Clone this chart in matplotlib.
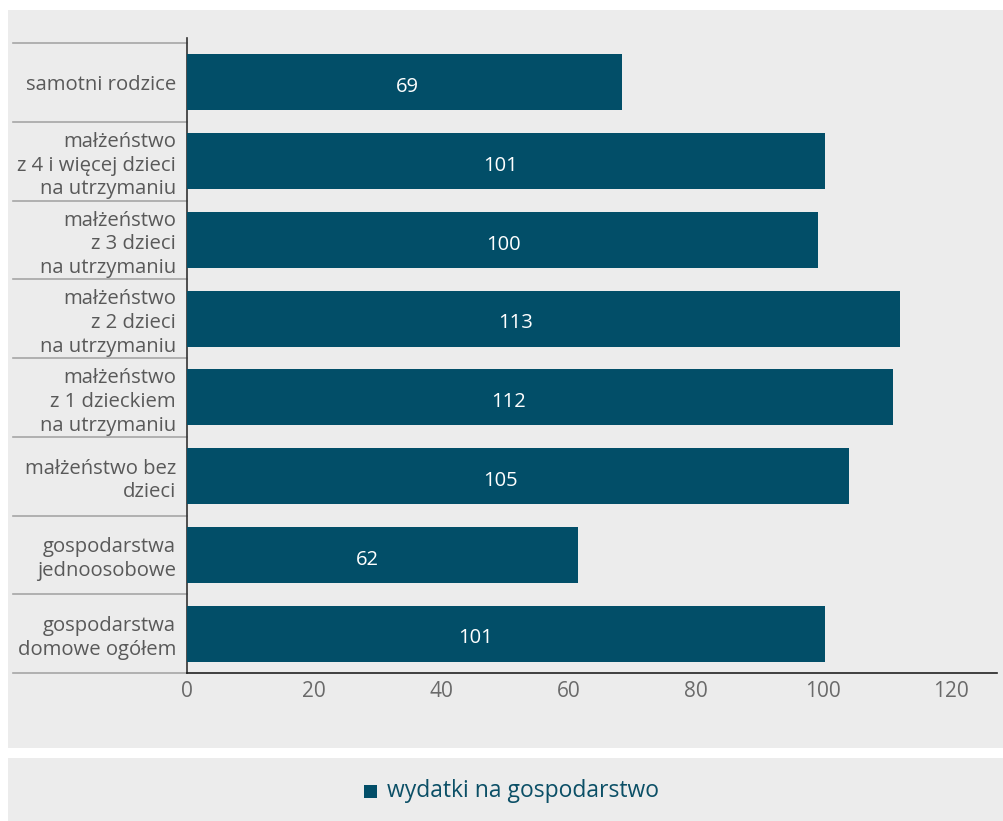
import matplotlib
matplotlib.use('Agg')
import matplotlib.pyplot as plt
import matplotlib.patches as patches

plt.rcParams['font.family'] = ['Open Sans', 'DejaVu Sans']

categories = ['gospodarstwa\ndomowe ogółem',
              'gospodarstwa\njednoosobowe',
              'małżeństwo bez\ndzieci',
              'małżeństwo\nz 1 dzieckiem\nna utrzymaniu',
              'małżeństwo\nz 2 dzieci\nna utrzymaniu',
              'małżeństwo\nz 3 dzieci\nna utrzymaniu',
              'małżeństwo\nz 4 i więcej dzieci\nna utrzymaniu',
              'samotni rodzice']
values = [100.2, 61.5, 104.1, 111.0, 112.0, 99.1, 100.2, 68.4]
value_labels = ['101', '62', '105', '112', '113', '100', '101', '69']
xticks = [0, 20, 40, 60, 80, 100, 120]
series_name = 'wydatki na gospodarstwo'

# where the value labels sit inside the bars (x, data units)
label_x = [45.3, 28.4, 49.3, 50.6, 51.7, 49.7, 49.2, 34.7]

bar_color = '#024e68'
panel_color = '#ececec'
text_gray = '#595959'

fig = plt.figure(figsize=(10.04, 8.21), dpi=100)
fig.patch.set_facecolor('white')

# gray panels (behind the axes)
fig.patches.append(patches.Rectangle((8/1004, 1-748/821), 996/1004, 738/821,
                                     transform=fig.transFigure, facecolor=panel_color,
                                     edgecolor='none', zorder=-5))
fig.patches.append(patches.Rectangle((8/1004, 0), 996/1004, 63/821,
                                     transform=fig.transFigure, facecolor=panel_color,
                                     edgecolor='none', zorder=-5))

ax = fig.add_axes([187/1004, 1-673/821, 810/1004, 635/821])
ax.set_facecolor('none')

pos = list(range(len(categories)))
ax.barh(pos, values, height=0.71, color=bar_color, zorder=3)
for p, lx, lab in zip(pos, label_x, value_labels):
    ax.text(lx, p - 0.06, lab, color='white', ha='center', va='center', fontsize=14.5, zorder=4)

ax.set_xlim(0, 127.3)
ax.set_ylim(-0.5, 7.5 + 5/78.75)
ax.set_xticks(xticks)
ax.set_xticklabels([str(t) for t in xticks], fontsize=15, color='#6a6a6a')
ax.tick_params(axis='x', length=0, pad=6)
ax.set_yticks(pos)
ax.set_yticklabels(categories, fontsize=14.6, color=text_gray, linespacing=1.25)
ax.tick_params(axis='y', length=0, pad=8)
for lbl in ax.get_yticklabels():
    lbl.set_multialignment('right')

ax.spines['right'].set_visible(False)
ax.spines['top'].set_visible(False)
ax.spines['left'].set_color('#333333')
ax.spines['bottom'].set_color('#222222')
ax.spines['left'].set_linewidth(1.2)
ax.spines['bottom'].set_linewidth(1.2)

# category separators in the label column
trans = matplotlib.transforms.blended_transform_factory(ax.transAxes, ax.transData)
for b in [p - 0.5 for p in pos] + [len(pos) - 0.5]:
    ax.plot([(13-187)/810, 0], [b, b], color='#a6a6a6', lw=1.2, transform=trans,
            clip_on=False, zorder=2)

# legend
fig.patches.append(patches.Rectangle((364/1004, 1-798/821), 13/1004, 13/821,
                                     transform=fig.transFigure, facecolor=bar_color,
                                     edgecolor='none'))
fig.text(387/1004, 1-791/821, series_name, fontsize=16.5, color='#0b4f66',
         ha='left', va='center')

fig.savefig('out.png', dpi=100, facecolor=fig.get_facecolor())
